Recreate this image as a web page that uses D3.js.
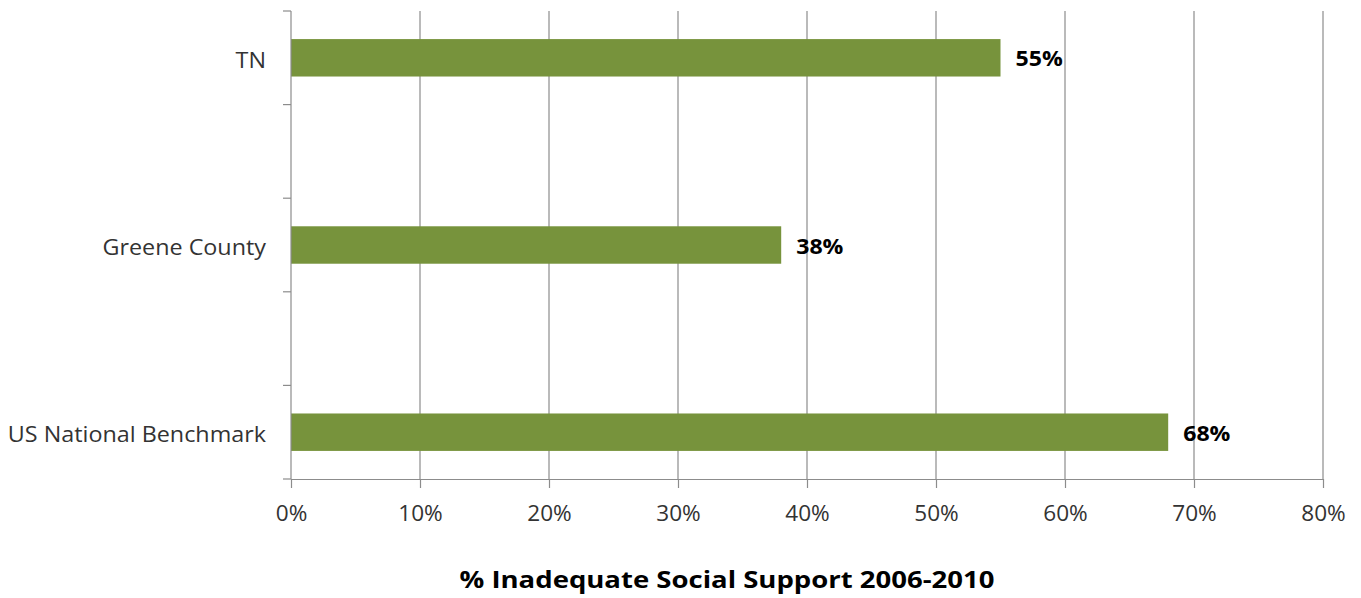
<!DOCTYPE html>
<html><head><meta charset="utf-8">
<script src="https://cdn.jsdelivr.net/npm/d3@7"></script>
<style>body{margin:0;background:#fff}svg{display:block}</style>
</head><body>
<script>
const categories = ["TN", "", "Greene County", "", "US National Benchmark"];
const values = [0.55, null, 0.38, null, 0.68];
const valueLabels = ["55%", "", "38%", "", "68%"];
const xTicks = [0, 0.1, 0.2, 0.3, 0.4, 0.5, 0.6, 0.7, 0.8];
const title = "% Inadequate Social Support 2006-2010";

const W = 1361, H = 598;
const m = {left: 291, right: 38, top: 11, bottom: 119};
const svg = d3.select("body").append("svg").attr("width", W).attr("height", H);
const font = "'Open Sans', sans-serif";

// horizontal stretch to mimic the wider source rendering
function stretch(sel, k) {
  sel.each(function () {
    const len = this.getComputedTextLength();
    if (len > 0) {
      this.setAttribute("textLength", len * k);
      this.setAttribute("lengthAdjust", "spacingAndGlyphs");
    }
  });
}

const keys = categories.map((c, i) => i);
const x = d3.scaleLinear().domain([0, 0.8]).range([m.left, W - m.right]);
const y = d3.scaleBand().domain(keys).range([m.top, H - m.bottom]).paddingInner(0.6).paddingOuter(0.3);
const yb = d3.scaleBand().domain(keys).range([m.top, H - m.bottom]);

// gridlines
svg.append("g").selectAll("line").data(xTicks.slice(1)).join("line")
  .attr("x1", d => x(d)).attr("x2", d => x(d))
  .attr("y1", m.top).attr("y2", H - m.bottom)
  .attr("stroke", "#8c8c8c").attr("stroke-width", 1.2);

// bars
svg.append("g").selectAll("rect").data(keys.filter(i => values[i] != null)).join("rect")
  .attr("x", x(0)).attr("y", i => y(i))
  .attr("width", i => x(values[i]) - x(0)).attr("height", y.bandwidth())
  .attr("fill", "#77933C");

// value labels
const vl = svg.append("g").selectAll("text").data(keys.filter(i => values[i] != null)).join("text")
  .attr("x", i => x(values[i]) + 15).attr("y", i => y(i) + y.bandwidth() / 2 + 1)
  .attr("dy", "0.36em").attr("font-family", font).attr("font-weight", "bold")
  .attr("font-size", 21).attr("fill", "#000").text(i => valueLabels[i]);
stretch(vl, 1.1);

// y axis
const ya = svg.append("g");
ya.append("line").attr("x1", m.left).attr("x2", m.left).attr("y1", m.top).attr("y2", H - m.bottom)
  .attr("stroke", "#8c8c8c").attr("stroke-width", 1.2);
const yTickPos = keys.map(i => yb(i)).concat([H - m.bottom]);
ya.selectAll("line.t").data(yTickPos).join("line").attr("class", "t")
  .attr("x1", m.left - 8).attr("x2", m.left).attr("y1", d => d).attr("y2", d => d)
  .attr("stroke", "#8c8c8c").attr("stroke-width", 1.2);
const cl = ya.selectAll("text").data(keys.filter(i => categories[i] !== "")).join("text")
  .attr("x", m.left - 25).attr("y", i => yb(i) + yb.bandwidth() / 2 + 2)
  .attr("dy", "0.36em").attr("text-anchor", "end")
  .attr("font-family", font).attr("font-size", 21.5).attr("fill", "#333")
  .text(i => categories[i]);
stretch(cl, 1.085);

// x axis
const xa = svg.append("g").attr("transform", `translate(0,${H - m.bottom})`)
  .call(d3.axisBottom(x).tickValues(xTicks).tickFormat(d3.format(".0%")).tickSize(9).tickSizeOuter(0));
xa.select(".domain").attr("stroke", "#8c8c8c").attr("stroke-width", 1.2);
xa.selectAll(".tick line").attr("stroke", "#8c8c8c").attr("stroke-width", 1.2);
const tl = xa.selectAll(".tick text").attr("font-family", font).attr("font-size", 21.5)
  .attr("fill", "#333").attr("y", 27);
stretch(tl, 1.05);

const tt = svg.append("text").attr("x", 727).attr("y", 588)
  .attr("text-anchor", "middle").attr("font-family", font).attr("font-weight", "bold")
  .attr("font-size", 24).attr("fill", "#000").text(title);
stretch(tt, 1.146);
</script>
</body></html>
